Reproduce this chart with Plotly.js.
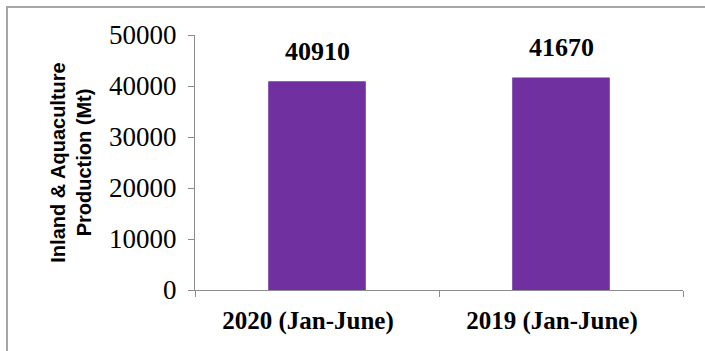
<!DOCTYPE html>
<html><head><meta charset="utf-8">
<script src="https://cdn.plot.ly/plotly-3.0.1.min.js"></script>
<style>
html,body{margin:0;padding:0;background:#fff;}
#wrap{position:relative;width:705px;height:351px;overflow:hidden;}
#chart{width:705px;height:351px;}
#frame{position:absolute;left:6px;top:6px;width:699px;height:345px;border-left:2px solid #a6a6a6;border-top:2px solid #a6a6a6;pointer-events:none;}
</style></head>
<body><div id="wrap"><div id="chart"></div><div id="frame"></div></div>
<script>
const categories = ["2020 (Jan-June)", "2019 (Jan-June)"];
const production = [40910, 41670];
const yTicks = [0, 10000, 20000, 30000, 40000, 50000];

const SERIF = '"Liberation Serif", "Times New Roman", serif';
const SANS = '"Liberation Sans", Arial, sans-serif';

const trace = {
  type: 'bar', x: categories, y: production, width: 0.4,
  marker: {color: '#7030A0'}, hoverinfo: 'none'
};
const annotations = categories.map((c, i) => ({
  x: c, y: production[i], xref: 'x', yref: 'y', text: '<b>' + production[i] + '</b>',
  showarrow: false, yanchor: 'bottom', yshift: 13,
  font: {family: SERIF, size: 26, color: '#000'}
}));
const layout = {
  width: 705, height: 351,
  margin: {l: 195, r: 22, t: 35, b: 61},
  paper_bgcolor: '#fff', plot_bgcolor: '#fff', showlegend: false,
  font: {family: SERIF, color: '#000'},
  xaxis: {
    type: 'category', showgrid: false, zeroline: false,
    showline: true, linecolor: '#8c8c8c', linewidth: 1,
    ticks: 'outside', tickson: 'boundaries', ticklen: 6, tickcolor: '#8c8c8c',
    ticklabelstandoff: 8, ticklabelshift: -9,
    tickvals: categories, ticktext: categories.map(c => '<b>' + c + '</b>'),
    tickfont: {family: SERIF, size: 25, color: '#000'}
  },
  yaxis: {
    range: [0, 50000], tickvals: yTicks, ticktext: yTicks.map(String),
    showgrid: false, zeroline: false,
    showline: true, linecolor: '#8c8c8c', linewidth: 1,
    ticks: 'outside', ticklen: 6, tickcolor: '#8c8c8c',
    ticklabelstandoff: 6,
    tickfont: {family: SERIF, size: 27, color: '#000'},
    title: {text: '<b>Inland & Aquaculture<br>Production (Mt)</b>', standoff: 12,
      font: {family: SANS, size: 20, color: '#000'}}
  },
  annotations: annotations
};
Plotly.newPlot('chart', [trace], layout, {displayModeBar: false, staticPlot: true});
</script></body></html>
